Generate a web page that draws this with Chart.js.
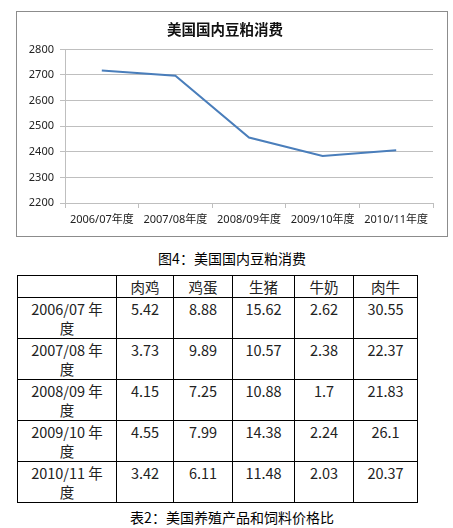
<!DOCTYPE html>
<html>
<head>
<meta charset="utf-8">
<script src="https://cdn.jsdelivr.net/npm/chart.js@4.4.0/dist/chart.umd.min.js"></script>
<style>
  body { margin: 0; background: #fff; width: 453px; height: 528px; position: relative; overflow: hidden; }
  #chartBox { position: absolute; left: 16px; top: 11px; width: 432px; height: 226px; border: 1px solid #8c8c8c; box-sizing: border-box; }
  .caption { position: absolute; left: 16px; width: 432px; text-align: center; font: 14px "Noto Sans CJK SC", sans-serif; color: #000; }
  #table { position: absolute; left: 17px; top: 275px; width: 401px; border-collapse: collapse; table-layout: fixed;
           font: 14.5px "Noto Sans CJK SC", sans-serif; color: #222; }
  #table td { border: 1px solid #000; text-align: center; vertical-align: top; line-height: 19.5px; padding: 1px 2px 0; }
  #table td.rowHead { padding: 1px 8px 0; }
</style>
</head>
<body>
<div id="chartBox"><canvas id="chart"></canvas></div>
<div class="caption" style="top:248px">图4：美国国内豆粕消费</div>
<table id="table"></table>
<div class="caption" style="top:507px">表2：美国养殖产品和饲料价格比</div>
<script>
// ============ DATA ============
const seasons = ['2006/07年度', '2007/08年度', '2008/09年度', '2009/10年度', '2010/11年度'];
const mealUse = [2718, 2697, 2456, 2384, 2406];
const yTicks = [2200, 2300, 2400, 2500, 2600, 2700, 2800];

const products = ['肉鸡', '鸡蛋', '生猪', '牛奶', '肉牛'];
const broiler = ['5.42', '3.73', '4.15', '4.55', '3.42'];
const eggs = ['8.88', '9.89', '7.25', '7.99', '6.11'];
const hogs = ['15.62', '10.57', '10.88', '14.38', '11.48'];
const milk = ['2.62', '2.38', '1.7', '2.24', '2.03'];
const cattle = ['30.55', '22.37', '21.83', '26.1', '20.37'];

// ============ TABLE ============
const colWidths = [99, 57, 59, 62, 59, 64];
const columns = [broiler, eggs, hogs, milk, cattle];
let html = '<colgroup>' + colWidths.map(w => `<col style="width:${w}px">`).join('') + '</colgroup>';
html += '<tr><td></td>' + products.map(p => `<td>${p}</td>`).join('') + '</tr>';
seasons.forEach((s, i) => {
    html += `<tr style="height:41px"><td class="rowHead">${s.replace('年', ' 年')}</td>` +
        columns.map(c => `<td>${c[i]}</td>`).join('') + '</tr>';
});
document.getElementById('table').innerHTML = html;

// ============ CHART ============
const axisGray = '#bfbfbf';
const labelFont = { family: '"Noto Sans", "Noto Sans CJK SC", sans-serif', size: 11 };

new Chart(document.getElementById('chart'), {
    type: 'line',
    data: {
        labels: seasons,
        datasets: [{
            data: mealUse,
            borderColor: '#4a7ebb',
            borderWidth: 2,
            pointRadius: 0,
            tension: 0,
            fill: false
        }]
    },
    options: {
        responsive: true,
        maintainAspectRatio: false,
        animation: false,
        layout: { padding: { left: 0, right: 14, top: 0, bottom: 0 } },
        plugins: {
            legend: { display: false },
            tooltip: { enabled: false },
            title: {
                display: true,
                text: '美国国内豆粕消费',
                color: '#111',
                font: { family: '"Noto Sans CJK SC", sans-serif', size: 14.5, weight: '600' },
                padding: { top: 9, bottom: 11 }
            }
        },
        scales: {
            x: {
                offset: true,
                grid: { drawOnChartArea: false, drawTicks: true, tickLength: 5, offset: true, color: axisGray },
                border: { display: true, color: axisGray },
                ticks: { color: '#222', font: labelFont, padding: 5, maxRotation: 0, autoSkip: false },
                afterFit: s => { s.height = 33; }
            },
            y: {
                min: yTicks[0],
                max: yTicks[yTicks.length - 1],
                afterBuildTicks: s => { s.ticks = yTicks.map(v => ({ value: v })); },
                grid: { color: axisGray, tickLength: 5 },
                border: { display: true, color: axisGray },
                ticks: { color: '#222', font: labelFont, padding: 6, callback: v => String(v) },
                afterFit: s => { s.width = 48; }
            }
        }
    }
});
</script>
</body>
</html>
